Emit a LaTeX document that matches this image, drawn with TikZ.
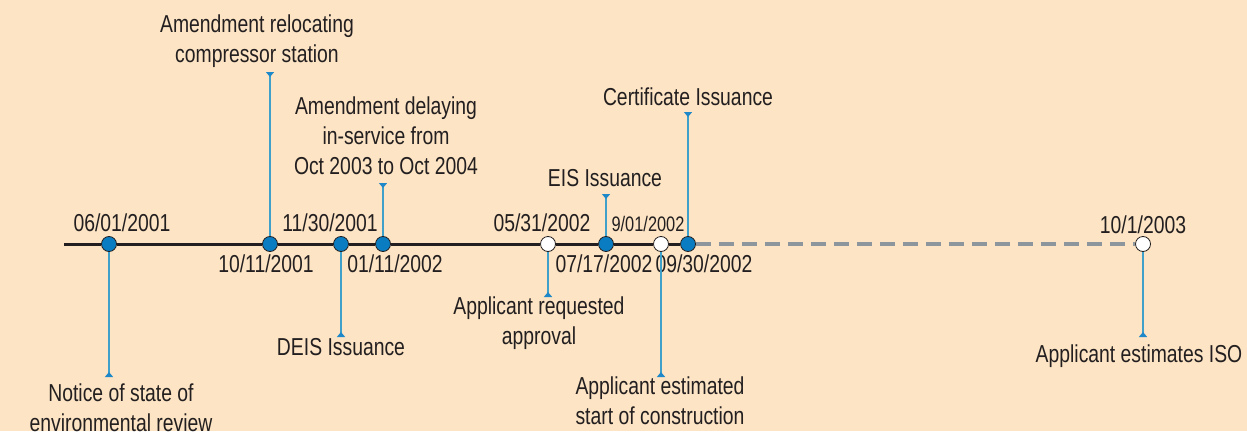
\documentclass[tikz,border=0pt]{standalone}
\usepackage{fontspec}
\setmainfont{Liberation Sans}[FakeStretch=0.79]
\newfontfamily\narrowfont{Liberation Sans}[FakeStretch=0.78]
\usetikzlibrary{arrows.meta}
\definecolor{bgpeach}{HTML}{FCE4C4}
\definecolor{dotblue}{HTML}{0A7DC2}
\definecolor{stemblue}{HTML}{3FA0CA}
\definecolor{tipblue}{HTML}{1E88C8}
\definecolor{inkdark}{HTML}{231F20}
\definecolor{dashgray}{HTML}{8C969C}
\tikzset{
  evt/.style={circle, minimum size=15pt, inner sep=0pt, draw=inkdark, line width=0.8pt, fill=dotblue},
  pending/.style={evt, fill=white},
  timeline/.style={draw=inkdark, line width=3pt},
  future/.style={draw=dashgray, line width=3.2pt, dash pattern=on 15pt off 8pt},
  stem/.style={draw=stemblue, line width=1.5pt, -{Triangle[reversed, width=8pt, length=5pt, fill=tipblue, color=tipblue]}},
  datelbl/.style={anchor=base, inner sep=0pt, text=inkdark, font=\fontsize{24.5}{30}\selectfont},
  note/.style={inner sep=0pt, text=inkdark, align=center, font=\fontsize{24.5}{30}\selectfont},
}
\begin{document}
\begin{tikzpicture}[x=1pt, y=-1pt]
  \useasboundingbox[fill=bgpeach] (0,0) rectangle (1247,431);

  % event markers on the time axis
  \coordinate (t0) at (64,244);
  \node[evt]     (d1) at (109,244) {};
  \node[evt]     (d2) at (270,244) {};
  \node[evt]     (d3) at (341,244) {};
  \node[evt]     (d4) at (383,244) {};
  \node[pending] (d5) at (548,244) {};
  \node[evt]     (d6) at (606,244) {};
  \node[pending] (d7) at (661,244) {};
  \node[evt]     (d8) at (688,244) {};
  \node[pending] (d9) at (1143,244) {};

  % axis: solid up to the certificate, dashed afterwards
  \draw[timeline] (t0) -- (d1) -- (d2) -- (d3) -- (d4) -- (d5) -- (d6) -- (d7) -- (d8);
  \draw[future] (d8) -- (d9);

  % dates
  \node[datelbl] (l1) at (122,231) {06/01/2001};
  \node[datelbl] (l2) at (266,272) {10/11/2001};
  \node[datelbl] (l3) at (330,231) {11/30/2001};
  \node[datelbl] (l4) at (395,272) {01/11/2002};
  \node[datelbl] (l5) at (542,231) {05/31/2002};
  \node[datelbl] (l6) at (604,272) {07/17/2002};
  \node[datelbl, font=\narrowfont\fontsize{21}{25}\selectfont] (l7) at (648,231) {9/01/2002};
  \node[datelbl] (l8) at (704,272) {09/30/2002};
  \node[datelbl] (l9) at (1143,233) {10/1/2003};

  % event descriptions
  \node[note, anchor=north] (n1) at (121,384) {Notice of state of\\environmental review};
  \node[note, anchor=north] (n2) at (257,15) {Amendment relocating\\compressor station};
  \node[note, anchor=base]  (n3) at (341,355) {DEIS Issuance};
  \node[note, anchor=north] (n4) at (386,97) {Amendment delaying\\in-service from\\Oct 2003 to Oct 2004};
  \node[note, anchor=north] (n5) at (539,297) {Applicant requested\\approval};
  \node[note, anchor=base]  (n6) at (605,186) {EIS Issuance};
  \node[note, anchor=north] (n7) at (660,377) {Applicant estimated\\start of construction};
  \node[note, anchor=base]  (n8) at (688,105) {Certificate Issuance};
  \node[note, anchor=base]  (n9) at (1139,362) {Applicant estimates ISO};

  % stem ends
  \coordinate (s1) at (109,377);
  \coordinate (s2) at (270,72);
  \coordinate (s3) at (341,337);
  \coordinate (s4) at (383,183);
  \coordinate (s5) at (548,297);
  \coordinate (s6) at (606,194);
  \coordinate (s7) at (661,377);
  \coordinate (s8) at (688,112);
  \coordinate (s9) at (1143,337);

  \foreach \i in {1,...,9} \draw[stem] (d\i) -- (s\i);
\end{tikzpicture}
\end{document}
